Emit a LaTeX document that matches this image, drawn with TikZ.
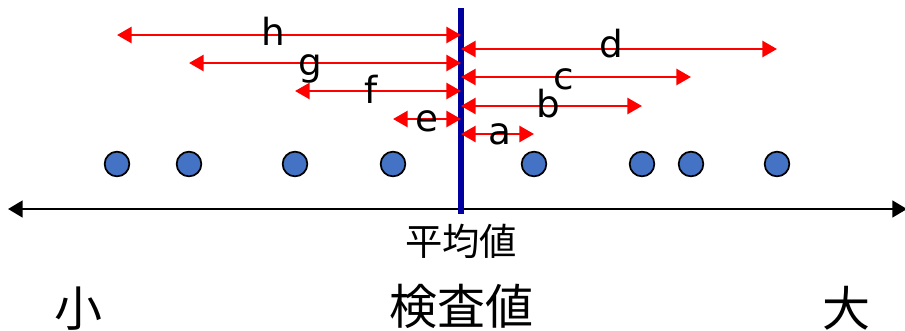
\documentclass[tikz,border=0pt]{standalone}
\usepackage{fontspec}
\setmainfont{Noto Sans CJK JP}
\newfontfamily\latinfont{DejaVu Sans}
\usetikzlibrary{arrows.meta}
\definecolor{dotblue}{HTML}{4472C4}
\definecolor{meanblue}{HTML}{0000A0}

\begin{document}
\begin{tikzpicture}[
    x=0.75pt, y=-0.75pt,
    dot/.style={
        circle, draw=black, line width=1.3pt, fill=dotblue,
        minimum size=18.5pt, inner sep=0pt
    },
    dist/.style={{Triangle[length=11pt, width=12pt]}-{Triangle[length=11pt, width=12pt]},
        line width=2.1pt, draw=red},
    axis/.style={{Triangle[length=11pt, width=12.5pt]}-{Triangle[length=11pt, width=12.5pt]},
        line width=2pt, draw=black},
    meanline/.style={line width=3.8pt, draw=meanblue},
    letter/.style={font=\latinfont\fontsize{28}{30}\selectfont, anchor=base, inner sep=0pt},
    jpsmall/.style={font=\fontsize{28}{30}\selectfont, anchor=base, inner sep=0pt},
    jplarge/.style={font=\fontsize{36}{40}\selectfont, anchor=base, inner sep=0pt}
]
\useasboundingbox (0,0) rectangle (905,330);

% Value axis with both ends open
\coordinate (lo) at (8,209);
\coordinate (hi) at (907,209);
\draw[axis] (lo) -- (hi);

% Mean line
\coordinate (mtop) at (461,8);
\coordinate (mbot) at (461,214);
\draw[meanline] (mtop) -- (mbot);

% Measured values
\foreach \x [count=\i] in {117,189,295,393,534,642,691,777}
    \node[dot] (dot\i) at (\x,164) {};

% Distances to the mean, left side
\draw[dist] (dot1 |- 0,35)  -- (mtop |- 0,35);
\draw[dist] (dot2 |- 0,63)  -- (mtop |- 0,63);
\draw[dist] (dot3 |- 0,91)  -- (mtop |- 0,91);
\draw[dist] (dot4 |- 0,119) -- (mtop |- 0,119);

% Distances to the mean, right side
\draw[dist] (mtop |- 0,49)  -- (dot8 |- 0,49);
\draw[dist] (mtop |- 0,77)  -- (dot7 |- 0,77);
\draw[dist] (mtop |- 0,106) -- (dot6 |- 0,106);
\draw[dist] (mtop |- 0,134) -- (dot5 |- 0,134);

% Distance labels
\node[letter] (lh) at (273,45)  {h};
\node[letter] (lg) at (310,75)  {g};
\node[letter] (lf) at (371,103) {f};
\node[letter] (le) at (427,131) {e};
\node[letter] (ld) at (611,57)  {d};
\node[letter] (lc) at (564,89)  {c};
\node[letter] (lb) at (548,117) {b};
\node[letter] (la) at (500,144) {a};

% Axis texts
\node[jpsmall] (mean)  at (461,255) {平均値};
\node[jplarge] (value) at (461,324) {検査値};
\node[jplarge] (small) at (78,326)  {小};
\node[jplarge] (large) at (846,326) {大};

\end{tikzpicture}
\end{document}
